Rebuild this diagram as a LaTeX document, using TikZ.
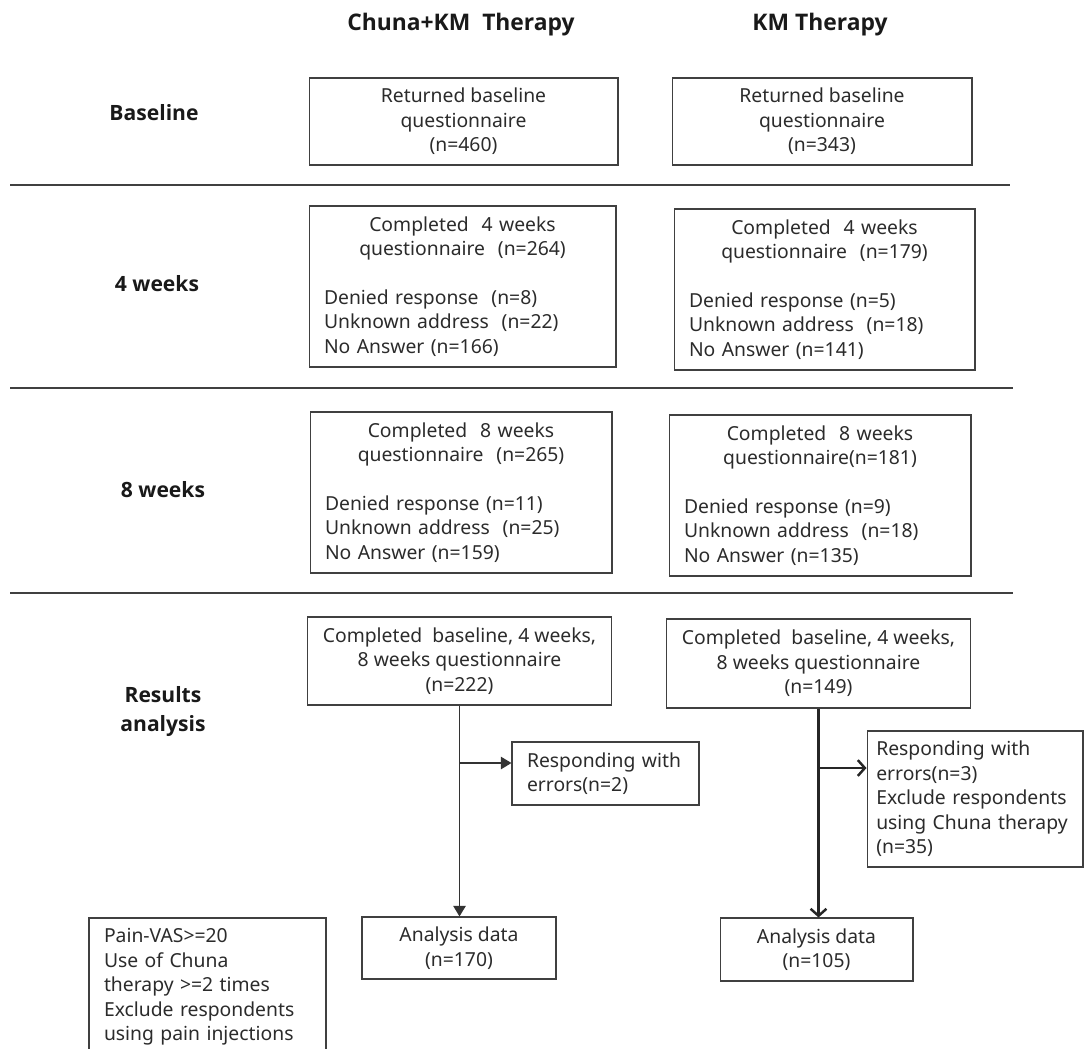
\documentclass[tikz,border=0pt]{standalone}
\usepackage{fontspec}
\setmainfont{Noto Sans}
\newfontfamily\headfont{Open Sans}
\usetikzlibrary{arrows.meta}
\definecolor{ink}{HTML}{2B2B2B}
\tikzset{
  box/.style={draw=black!75, line width=0.6pt, inner xsep=0.3cm, inner ysep=2pt,
    font=\fontsize{11}{13.9}\selectfont, text=ink},
  cbox/.style={box, align=center},
  lbox/.style={box, align=left},
  mbox/.style={box, align=left, minimum height=3.22cm},
  head/.style={font=\headfont\bfseries\fontsize{13}{15}\selectfont, text=black!90},
  rowlab/.style={font=\headfont\bfseries\fontsize{12}{16.5}\selectfont, text=black!90, align=center},
  sepline/.style={draw=black!75, line width=0.6pt},
  arrC/.style={draw=black!80, line width=0.8pt, -{Triangle[length=6pt,width=7pt]}},
  arrK/.style={draw=black!85, line width=1.4pt, -{Straight Barb[length=4pt,width=9pt]}}
}
\begin{document}
\begin{tikzpicture}[x=0.02cm,y=-0.02cm]
\clip (0,0) rectangle (1085,1048);
\node[head] (hC) at (461,25) {Chuna+KM\ \ Therapy};
\node[head] (hK) at (820,25) {KM Therapy};

\node[rowlab] (lBase) at (154,113) {Baseline};
\node[rowlab] (lFour) at (157,284) {4 weeks};
\node[rowlab] (lEight) at (163,490) {8 weeks};
\node[rowlab] (lRes) at (163,712) {Results\\analysis};

\draw[sepline] (10,185) -- (1010,185);
\draw[sepline] (10,388) -- (1013,388);
\draw[sepline] (10,593) -- (1013,593);

\node[cbox, minimum width=6.18cm, minimum height=1.74cm] (bC) at (463.5,121.5)
  {Returned baseline\\questionnaire\\(n=460)};
\node[cbox, minimum width=6.0cm, minimum height=1.74cm] (bK) at (822,121.5)
  {Returned baseline\\questionnaire\\(n=343)};

\node[mbox, text width=5.54cm] (w4C) at (462.5,286.5)
  {{\centering Completed\ \ 4 weeks\\questionnaire\ \ (n=264)\par}\vspace{13.9pt}%
   Denied response\ \ (n=8)\\Unknown address\ \ (n=22)\\No Answer (n=166)};
\node[mbox, text width=5.42cm] (w4K) at (824.5,289.5)
  {{\centering Completed\ \ 4 weeks\\questionnaire\ \ (n=179)\par}\vspace{13.9pt}%
   Denied response (n=5)\\Unknown address\ \ (n=18)\\No Answer (n=141)};

\node[mbox, text width=5.44cm] (w8C) at (461,492.5)
  {{\centering Completed\ \ 8 weeks\\questionnaire\ \ (n=265)\par}\vspace{13.9pt}%
   Denied response (n=11)\\Unknown address\ \ (n=25)\\No Answer (n=159)};
\node[mbox, text width=5.44cm] (w8K) at (820,495.5)
  {{\centering Completed\ \ 8 weeks\\questionnaire(n=181)\par}\vspace{13.9pt}%
   Denied response (n=9)\\Unknown address\ \ (n=18)\\No Answer (n=135)};

\node[cbox, minimum width=6.06cm, minimum height=1.76cm] (rC) at (459.5,661)
  {Completed\ \ baseline, 4 weeks,\\8 weeks questionnaire\\(n=222)};
\node[cbox, minimum width=6.06cm, minimum height=1.78cm] (rK) at (818.5,663.5)
  {Completed\ \ baseline, 4 weeks,\\8 weeks questionnaire\\(n=149)};

\node[lbox, text width=3.14cm, minimum height=1.26cm] (eC) at (605.5,773.5)
  {Responding with\\errors(n=2)};
\node[lbox, text width=3.95cm, inner xsep=0.185cm, minimum height=2.72cm] (eK) at (975,799)
  {Responding with\\errors(n=3)\\Exclude respondents\\using Chuna therapy\\(n=35)};

\node[cbox, minimum width=3.88cm, minimum height=1.24cm] (aC) at (459,948)
  {Analysis data\\(n=170)};
\node[cbox, minimum width=3.86cm, minimum height=1.26cm] (aK) at (816.5,949.5)
  {Analysis data\\(n=105)};

\node[lbox, text width=4.14cm, minimum height=2.76cm] (crit) at (207.5,987)
  {Pain-VAS>=20\\Use of Chuna\\therapy >=2 times\\Exclude respondents\\using pain injections};

\draw[arrC] (rC.south) -- (rC.south |- aC.north);
\coordinate (jC) at (459,763);
\draw[arrC] (jC) -- (eC.west |- jC);

\draw[arrK] (rK.south) -- (rK.south |- aK.north);
\coordinate (jK) at (818.5,768);
\draw[arrK] (jK) -- (eK.west |- jK);
\end{tikzpicture}
\end{document}
